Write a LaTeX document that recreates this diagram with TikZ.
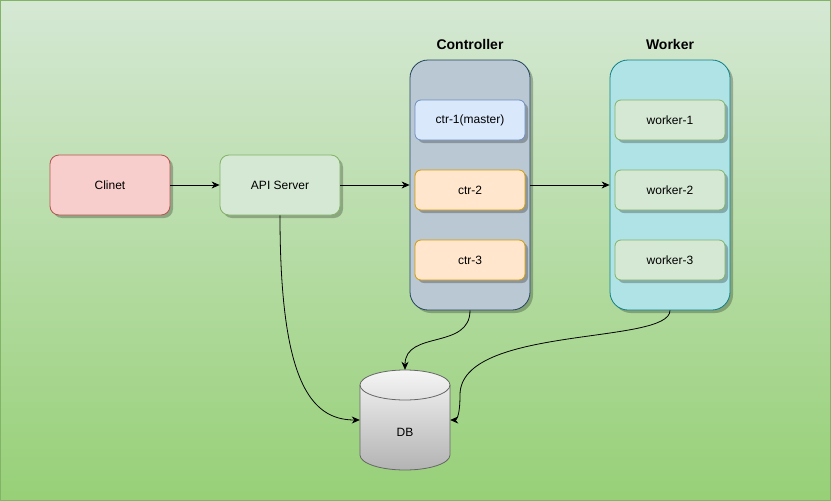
\documentclass[tikz,border=0pt]{standalone}
\usepackage{fontspec}
\setmainfont{Liberation Sans}
\usetikzlibrary{arrows.meta,shadows}
\definecolor{bgtop}{HTML}{D5E8D4}
\definecolor{bgbot}{HTML}{97D077}
\definecolor{bgline}{HTML}{82B366}
\definecolor{redfill}{HTML}{F8CECC}
\definecolor{redline}{HTML}{B85450}
\definecolor{grnfill}{HTML}{D5E8D4}
\definecolor{grnline}{HTML}{82B366}
\definecolor{ctrfill}{HTML}{BAC8D3}
\definecolor{ctrline}{HTML}{23445D}
\definecolor{wkfill}{HTML}{B0E3E6}
\definecolor{wkline}{HTML}{0E8088}
\definecolor{bluefill}{HTML}{DAE8FC}
\definecolor{blueline}{HTML}{6C8EBF}
\definecolor{orfill}{HTML}{FFE6CC}
\definecolor{orline}{HTML}{D79B00}
\definecolor{dbtop}{HTML}{F5F5F5}
\definecolor{dbbot}{HTML}{B3B3B3}
\definecolor{dbline}{HTML}{666666}
\tikzset{
  x=1pt, y=1pt,
  shad/.style={drop shadow={shadow xshift=3pt, shadow yshift=-3pt, opacity=0.25, fill=black}},
  box/.style={shad, rounded corners=9pt, minimum width=120pt, minimum height=60pt, line width=0.8pt, font=\fontsize{12}{14}\selectfont, inner sep=0pt},
  inbox/.style={shad, rounded corners=6pt, minimum width=110pt, minimum height=40pt, line width=0.8pt, font=\fontsize{12}{14}\selectfont, inner sep=0pt},
  cont/.style={shad, rounded corners=18pt, minimum width=120pt, minimum height=250pt, line width=0.8pt, inner sep=0pt},
  title/.style={font=\bfseries\fontsize{14}{16}\selectfont},
  conn/.style={line width=0.8pt, -{Stealth[length=8pt,width=7pt,inset=2.5pt]}},
}
\begin{document}
\begin{tikzpicture}
\shade[top color=bgtop, bottom color=bgbot, draw=bgline, line width=1pt] (0.5,-0.5) rectangle (830.5,-500.5);
\useasboundingbox (0,0) rectangle (831,-501);

\node[box, fill=redfill, draw=redline] (cli) at (110,-185) {Clinet};
\node[box, fill=grnfill, draw=grnline] (api) at (280,-185) {API Server};

\node[cont, fill=ctrfill, draw=ctrline] (ctrl) at (470,-185) {};
\node[title] (ctrlt) at (470,-44) {Controller};
\node[inbox, fill=bluefill, draw=blueline] (c1) at (470,-120) {ctr-1(master)};
\node[inbox, fill=orfill, draw=orline] (c2) at (470,-190) {ctr-2};
\node[inbox, fill=orfill, draw=orline] (c3) at (470,-260) {ctr-3};

\node[cont, fill=wkfill, draw=wkline] (wk) at (670,-185) {};
\node[title] (wkt) at (670,-44) {Worker};
\node[inbox, fill=grnfill, draw=grnline] (w1) at (670,-120) {worker-1};
\node[inbox, fill=grnfill, draw=grnline] (w2) at (670,-190) {worker-2};
\node[inbox, fill=grnfill, draw=grnline] (w3) at (670,-260) {worker-3};

% DB cylinder
\shade[top color=dbtop, bottom color=dbbot, draw=dbline, line width=0.8pt]
  (360,-385) -- (360,-455) arc[start angle=180, end angle=360, x radius=45, y radius=15]
  -- (450,-385) arc[start angle=0, end angle=180, x radius=45, y radius=15] -- cycle;
\draw[dbline, line width=0.8pt] (360,-385) arc[start angle=180, end angle=360, x radius=45, y radius=15];
\node[minimum width=90pt, minimum height=100pt, inner sep=0pt] (db) at (405,-420) {};
\node[font=\fontsize{12}{14}\selectfont] (dbl) at (405,-432) {DB};

\draw[conn] (cli) -- (api);
\draw[conn] (api) -- (ctrl);
\draw[conn] (ctrl) -- (wk);
\draw[conn] (api.south) .. controls (280,-380) and (310,-420) .. (db.west);
\draw[conn] (ctrl.south) .. controls (470,-350) and (405,-330) .. (db.north);
\draw[conn] (wk.south) .. controls (670,-345) and (460,-325) .. (460,-395) .. controls (460,-420) and (455,-420) .. (db.east);
\end{tikzpicture}
\end{document}
